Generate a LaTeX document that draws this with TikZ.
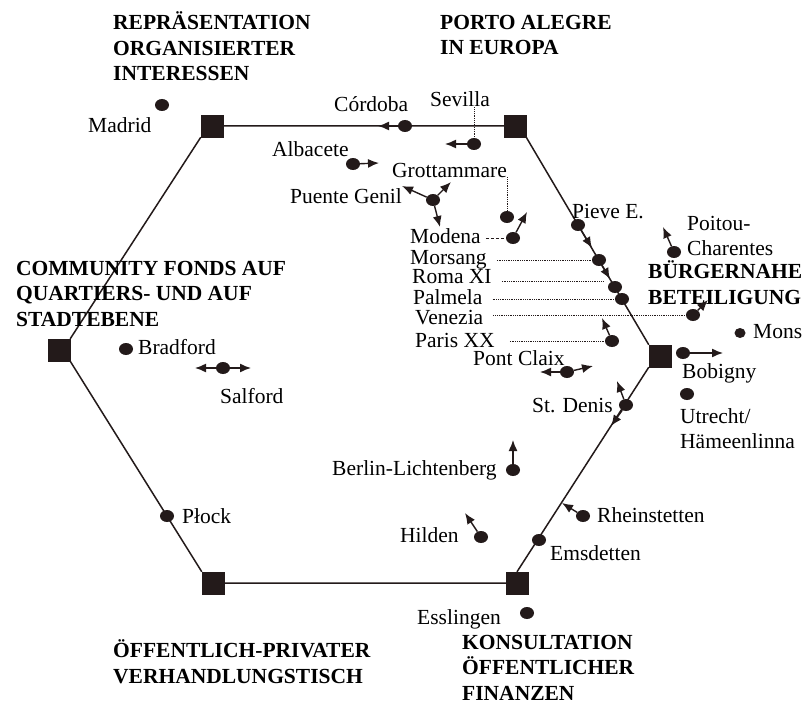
\documentclass[tikz,border=0pt]{standalone}
\usepackage{fontspec}
\setmainfont{Liberation Serif}
\usetikzlibrary{arrows.meta,shapes.geometric}
\definecolor{ink}{HTML}{231A1A}

\begin{document}
\begin{tikzpicture}[x=1pt,y=-1pt,
  hub/.style={fill=ink,draw=ink,minimum size=22pt,inner sep=0pt},
  spot/.style={ellipse,fill=ink,minimum width=14pt,minimum height=12pt,inner sep=0pt},
  lbl/.style={anchor=base west,inner sep=0pt,align=left,font=\fontsize{21.5}{25}\selectfont},
  head/.style={anchor=base west,inner sep=0pt,align=left,font=\fontsize{21.5}{25.5}\selectfont\bfseries},
  rim/.style={draw=ink,line width=1.5pt},
  arr/.style={draw=ink,line width=1.4pt,-{Latex[length=11pt,width=9pt]}},
  dots/.style={draw=ink,line width=0.8pt,densely dotted}]
\useasboundingbox[fill=white] (0,0) rectangle (803,706);

% the six corners
\node[hub] (hubtl) at (212,126) {};
\node[hub] (hubtr) at (515,126) {};
\node[hub] (hubr)  at (660,356) {};
\node[hub] (hubbr) at (517,583) {};
\node[hub] (hubbl) at (213,583) {};
\node[hub] (hubl)  at (59,350) {};
\draw[rim] (hubtl.east) -- (hubtr.west) (hubtr.south east) -- (hubr.north west)
  (hubr.south west) -- (hubbr.north) (hubbr.west) -- (hubbl.east)
  (hubbl.north west) -- (hubl.south east) (hubl.north east) -- (hubtl.south west);

% headings (base = last line)
\node[head] (hrep) at (113,81) {REPRÄSENTATION\\ORGANISIERTER\\INTERESSEN};
\node[head] (hporto) at (440,55) {PORTO ALEGRE\\IN EUROPA};
\node[head] (hcomm) at (16,326) {COMMUNITY FONDS AUF\\QUARTIERS- UND AUF\\STADTEBENE};
\node[head] (hbuerg) at (648,304) {BÜRGERNAHE\\BETEILIGUNG};
\node[head] (hoeff) at (113,683) {ÖFFENTLICH-PRIVATER\\VERHANDLUNGSTISCH};
\node[head] (hkons) at (462,700) {KONSULTATION\\ÖFFENTLICHER\\FINANZEN};

% cities
\node[spot] (madrid) at (162,105) {};
\node[lbl] (lmadrid) at (88,133) {Madrid};
\node[spot] (cordoba) at (405,126) {};
\node[lbl] (lcordoba) at (334,112) {Córdoba};
\node[spot] (sevilla) at (474,144) {};
\node[lbl] (lsevilla) at (430,107) {Sevilla};
\node[spot] (albacete) at (353,164) {};
\node[lbl] (lalbacete) at (272,157) {Albacete};
\node[lbl] (lgrotta) at (392,177) {Grottammare};
\node[spot] (grotta) at (507,217) {};
\node[spot] (puente) at (433,200) {};
\node[lbl] (lpuente) at (290,203) {Puente Genil};
\node[spot] (modena) at (513,238) {};
\node[lbl] (lmodena) at (410,243) {Modena};
\node[spot] (pieve) at (578,225) {};
\node[lbl] (lpieve) at (572,218) {Pieve E.};
\node[spot] (morsang) at (599,260) {};
\node[lbl] (lmorsang) at (410,264) {Morsang};
\node[spot] (roma) at (615,287) {};
\node[lbl] (lroma) at (412,283) {Roma XI};
\node[spot] (palmela) at (622,299) {};
\node[lbl] (lpalmela) at (413,304) {Palmela};
\node[spot] (venezia) at (693,315) {};
\node[lbl] (lvenezia) at (415,324) {Venezia};
\node[spot] (paris) at (612,341) {};
\node[lbl] (lparis) at (415,347) {Paris XX};
\node[spot] (pont) at (567,372) {};
\node[lbl] (lpont) at (473,365) {Pont Claix};
\node[spot] (poitou) at (674,252) {};
\node[lbl] (lpoitou) at (687,255) {Poitou-\\Charentes};
\node[spot,minimum width=11pt,minimum height=10pt] (mons) at (740,333) {};
\node[lbl] (lmons) at (753,338) {Mons};
\node[spot] (bobigny) at (683,353) {};
\node[lbl] (lbobigny) at (682,378) {Bobigny};
\node[spot] (utrecht) at (687,394) {};
\node[lbl] (lutrecht) at (680,448) {Utrecht/\\Hämeenlinna};
\node[spot] (stdenis) at (626,405) {};
\node[lbl] (lstdenis) at (532,412) {St. Denis};
\node[spot] (berlin) at (513,470) {};
\node[lbl] (lberlin) at (332,475) {Berlin-Lichtenberg};
\node[spot] (hilden) at (481,537) {};
\node[lbl] (lhilden) at (400,542) {Hilden};
\node[spot] (rhein) at (583,516) {};
\node[lbl] (lrhein) at (597,522) {Rheinstetten};
\node[spot] (emsdetten) at (539,540) {};
\node[lbl] (lemsdetten) at (550,560) {Emsdetten};
\node[spot] (esslingen) at (527,613) {};
\node[lbl] (lesslingen) at (417,624) {Esslingen};
\node[spot] (bradford) at (126,349) {};
\node[lbl] (lbradford) at (138,354) {Bradford};
\node[spot] (salford) at (223,368) {};
\node[lbl] (lsalford) at (220,403) {Salford};
\node[spot] (plock) at (167,516) {};
\node[lbl] (lplock) at (182,523) {Płock};

% arrow ends
\coordinate (cordobatip) at (378,126);
\coordinate (sevillatip) at (445,144);
\coordinate (albacetetip) at (379,163);
\coordinate (puentetipa) at (402,186);
\coordinate (puentetipb) at (451,182);
\coordinate (puentetipc) at (440,227);
\coordinate (modenatip) at (527,212);
\coordinate (pievetip) at (592,248);
\coordinate (morsangtip) at (610,279);
\coordinate (romaend) at (604,281);
\coordinate (paristip) at (602,318);
\coordinate (ponttipa) at (540,372);
\coordinate (ponttipb) at (593,366);
\coordinate (poitoutip) at (663,227);
\coordinate (veneziatip) at (708,300);
\coordinate (bobignytip) at (723,353);
\coordinate (stdenistipa) at (617,381);
\coordinate (stdenistipb) at (611,426);
\coordinate (berlintip) at (513,440);
\coordinate (hildentip) at (465,513);
\coordinate (rheintip) at (562,503);
\coordinate (salfordtipa) at (195,368);
\coordinate (salfordtipb) at (251,368);

\draw[arr] (cordoba) -- (cordobatip);
\draw[arr] (sevilla) -- (sevillatip);
\draw[arr] (albacete) -- (albacetetip);
\draw[arr] (puente) -- (puentetipa);
\draw[arr] (puente) -- (puentetipb);
\draw[arr] (puente) -- (puentetipc);
\draw[arr] (modena) -- (modenatip);
\draw[arr] (pieve) -- (pievetip);
\draw[arr] (morsang) -- (morsangtip);
\draw[arr] (paris) -- (paristip);
\draw[arr] (pont) -- (ponttipa);
\draw[arr] (pont) -- (ponttipb);
\draw[arr] (poitou) -- (poitoutip);
\draw[arr] (venezia) -- (veneziatip);
\draw[arr] (bobigny) -- (bobignytip);
\draw[arr] (stdenis) -- (stdenistipa);
\draw[arr] (stdenis) -- (stdenistipb);
\draw[arr] (berlin) -- (berlintip);
\draw[arr] (hilden) -- (hildentip);
\draw[arr] (rhein) -- (rheintip);
\draw[arr] (salford) -- (salfordtipa);
\draw[arr] (salford) -- (salfordtipb);

% dotted leaders
\draw[dots] (sevilla |- lsevilla.south) -- (sevilla);
\draw[dots] (grotta |- lgrotta.south) -- (grotta);
\draw[dots,densely dashed,shorten <=5pt] (lmodena.east |- modena) -- (modena);
\draw[dots,shorten <=10pt] (lmorsang.east |- morsang) -- (morsang);
\draw[dots,shorten <=10pt] (lroma.east |- romaend) -- (romaend);
\draw[dots,shorten <=10pt] (lpalmela.east |- palmela) -- (palmela);
\draw[dots,shorten <=10pt] (lvenezia.east |- venezia) -- (venezia);
\draw[dots,shorten <=15pt] (lparis.east |- paris) -- (paris);
\end{tikzpicture}
\end{document}
